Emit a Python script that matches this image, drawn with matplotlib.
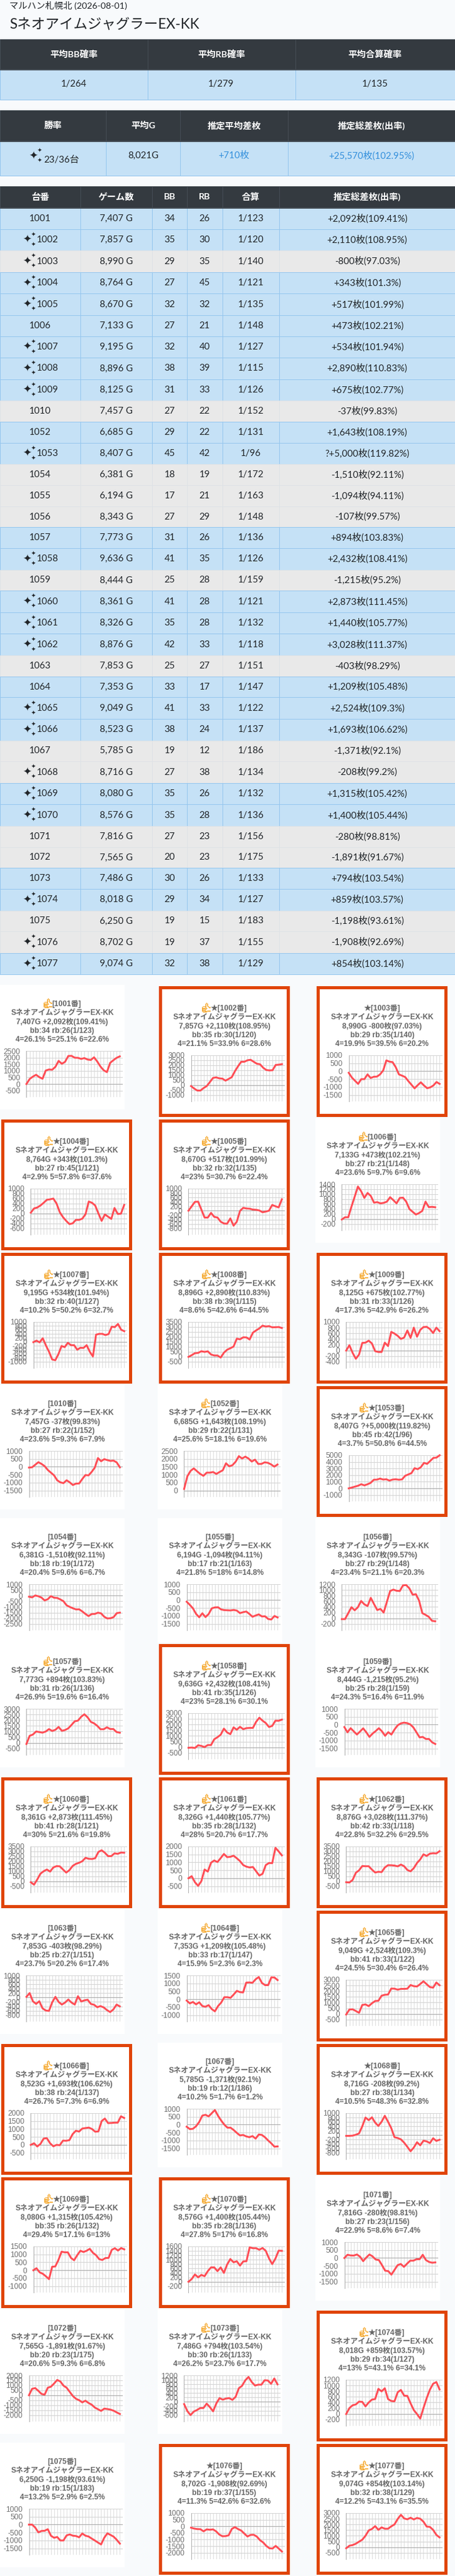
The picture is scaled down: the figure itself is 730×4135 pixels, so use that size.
import matplotlib
matplotlib.use("Agg")
import matplotlib.pyplot as plt
from matplotlib.patches import Rectangle
import numpy as np

WIDTH, HEIGHT = 730, 4135
PX = 0.72  # px -> pt at dpi 100

UI_FONT = ["Lato", "Noto Sans CJK JP", "DejaVu Sans"]
CHART_FONT = ["Liberation Sans", "Noto Sans CJK JP", "DejaVu Sans"]

MACHINE_NAME = "SネオアイムジャグラーEX-KK"
PAGE_HEADER = "マルハン札幌北 (2026-08-01)"

# --- Summary tables ----------------------------------------------------------

prob_headers = ["平均BB確率", "平均RB確率", "平均合算確率"]
prob_values = ["1/264", "1/279", "1/135"]

summary_headers = ["勝率", "平均G", "推定平均差枚", "推定総差枚(出率)"]
summary_values = ["23/36台", "8,021G", "+710枚", "+25,570枚(102.95%)"]

table_headers = ["台番", "ゲーム数", "BB", "RB", "合算", "推定総差枚(出率)"]

# --- Per machine table -------------------------------------------------------

machines = [1001, 1002, 1003, 1004, 1005, 1006, 1007, 1008, 1009, 1010, 1052, 1053,
            1054, 1055, 1056, 1057, 1058, 1059, 1060, 1061, 1062, 1063, 1064, 1065,
            1066, 1067, 1068, 1069, 1070, 1071, 1072, 1073, 1074, 1075, 1076, 1077]
games = ["7,407", "7,857", "8,990", "8,764", "8,670", "7,133", "9,195", "8,896", "8,125", "7,457", "6,685", "8,407",
         "6,381", "6,194", "8,343", "7,773", "9,636", "8,444", "8,361", "8,326", "8,876", "7,853", "7,353", "9,049",
         "8,523", "5,785", "8,716", "8,080", "8,576", "7,816", "7,565", "7,486", "8,018", "6,250", "8,702", "9,074"]
bb = [34, 35, 29, 27, 32, 27, 32, 38, 31, 27, 29, 45,
      18, 17, 27, 31, 41, 25, 41, 35, 42, 25, 33, 41,
      38, 19, 27, 35, 35, 27, 20, 30, 29, 19, 19, 32]
rb = [26, 30, 35, 45, 32, 21, 40, 39, 33, 22, 22, 42,
      19, 21, 29, 26, 35, 28, 28, 28, 33, 27, 17, 33,
      24, 12, 38, 26, 28, 23, 23, 26, 34, 15, 37, 38]
combined = ["1/123", "1/120", "1/140", "1/121", "1/135", "1/148", "1/127", "1/115", "1/126", "1/152", "1/131", "1/96",
            "1/172", "1/163", "1/148", "1/136", "1/126", "1/159", "1/121", "1/132", "1/118", "1/151", "1/147", "1/122",
            "1/137", "1/186", "1/134", "1/132", "1/136", "1/156", "1/175", "1/133", "1/127", "1/183", "1/155", "1/129"]
payout = ["+2,092枚(109.41%)", "+2,110枚(108.95%)", "-800枚(97.03%)", "+343枚(101.3%)", "+517枚(101.99%)",
          "+473枚(102.21%)", "+534枚(101.94%)", "+2,890枚(110.83%)", "+675枚(102.77%)", "-37枚(99.83%)",
          "+1,643枚(108.19%)", "?+5,000枚(119.82%)", "-1,510枚(92.11%)", "-1,094枚(94.11%)", "-107枚(99.57%)",
          "+894枚(103.83%)", "+2,432枚(108.41%)", "-1,215枚(95.2%)", "+2,873枚(111.45%)", "+1,440枚(105.77%)",
          "+3,028枚(111.37%)", "-403枚(98.29%)", "+1,209枚(105.48%)", "+2,524枚(109.3%)", "+1,693枚(106.62%)",
          "-1,371枚(92.1%)", "-208枚(99.2%)", "+1,315枚(105.42%)", "+1,400枚(105.44%)", "-280枚(98.81%)",
          "-1,891枚(91.67%)", "+794枚(103.54%)", "+859枚(103.57%)", "-1,198枚(93.61%)", "-1,908枚(92.69%)",
          "+854枚(103.14%)"]
starred = [1002, 1003, 1004, 1005, 1007, 1008, 1009, 1053, 1058, 1060, 1061, 1062,
           1065, 1066, 1068, 1069, 1070, 1074, 1076, 1077]
settings = ["4=26.1% 5=25.1% 6=22.6%", "4=21.1% 5=33.9% 6=28.6%", "4=19.9% 5=39.5% 6=20.2%",
            "4=2.9% 5=57.8% 6=37.6%", "4=23% 5=30.7% 6=22.4%", "4=23.6% 5=9.7% 6=9.6%",
            "4=10.2% 5=50.2% 6=32.7%", "4=8.6% 5=42.6% 6=44.5%", "4=17.3% 5=42.9% 6=26.2%",
            "4=23.6% 5=9.3% 6=7.9%", "4=25.6% 5=18.1% 6=19.6%", "4=3.7% 5=50.8% 6=44.5%",
            "4=20.4% 5=9.6% 6=6.7%", "4=21.8% 5=18% 6=14.8%", "4=23.4% 5=21.1% 6=20.3%",
            "4=26.9% 5=19.6% 6=16.4%", "4=23% 5=28.1% 6=30.1%", "4=24.3% 5=16.4% 6=11.9%",
            "4=30% 5=21.6% 6=19.8%", "4=28% 5=20.7% 6=17.7%", "4=22.8% 5=32.2% 6=29.5%",
            "4=23.7% 5=20.2% 6=17.4%", "4=15.9% 5=2.3% 6=2.3%", "4=24.5% 5=30.4% 6=26.4%",
            "4=26.7% 5=7.3% 6=6.9%", "4=10.2% 5=1.7% 6=1.2%", "4=10.5% 5=48.3% 6=32.8%",
            "4=29.4% 5=17.1% 6=13%", "4=27.8% 5=17% 6=16.8%", "4=22.9% 5=8.6% 6=7.4%",
            "4=20.6% 5=9.3% 6=6.8%", "4=26.2% 5=23.7% 6=17.7%", "4=13% 5=43.1% 6=34.1%",
            "4=13.2% 5=2.9% 6=2.5%", "4=11.3% 5=42.6% 6=32.6%", "4=12.2% 5=43.1% 6=35.5%"]

# y axis of each small chart: top tick, bottom tick, step
axis_top = [2500, 3000, 1000, 1000, 1000, 1400, 1000, 3500, 1000, 1000, 2500, 5000,
            1000, 1000, 1200, 3000, 3000, 1000, 3500, 2000, 3500, 1000, 1500, 3000,
            2000, 1000, 1000, 1500, 1600, 1000, 2000, 1200, 1200, 1000, 1000, 3000]
axis_bottom = [-500, -1000, -1500, -600, -800, -200, -1000, -500, -400, -1500, 0, -1000,
               -2500, -1500, -200, -500, -500, -1500, -500, -500, -500, -800, -1000, -500,
               -500, -1500, -800, -1000, -200, -1500, -2000, -600, -200, -1500, -2000, -500]
axis_step = [500, 500, 500, 200, 200, 200, 200, 500, 200, 500, 500, 1000,
             500, 500, 200, 500, 500, 500, 500, 500, 500, 200, 500, 500,
             500, 500, 200, 500, 200, 500, 500, 200, 200, 500, 500, 500]

# --- Small chart curves ------------------------------------------------------

c1001 = [0, 380, 560, 700, 520, 400, 1020, 1100, 1080, 1300, 1750, 1530, 1680, 2120, 2130,
         1990, 1980, 1900, 1960, 1850, 1820, 2020, 1700, 1320, 1040, 900, 1600, 1800, 1980, 2092]
c1002 = [-100, -350, -550, -550, -300, -100, 300, 720, 780, 680, 650, 450, 620, 800, 1400,
         1900, 2350, 2350, 2500, 2550, 2350, 2150, 2100, 1750, 1520, 1480, 1500, 2030, 2060, 2110]
c1003 = [-100, -400, -600, -800, -500, -500, -200, -430, -350, -340, -200, 50, 680, 600, 570,
         250, -200, -280, -370, -620, -850, -1080, -880, -700, -900, -1070, -1020, -900, -680, -800]
c1004 = [30, 200, 240, 320, 430, 550, 570, 600, 400, 50, -150, -300, -430, -400, -260,
         -260, -210, -30, 480, 430, 320, 0, -300, -40, -130, -220, 220, -20, -10, 343]
c1005 = [0, 200, 400, 410, 50, -310, -310, -100, -280, -310, -500, -580, -590, -350, -680,
         -500, -10, 130, 100, 90, 50, 40, 10, -70, -40, 0, 260, 200, 150, 517]
c1006 = [-20, 70, 70, 500, 900, 1310, 1120, 850, 1050, 930, 660, 680, 630, 650, 700,
         880, 760, 630, 850, 860, 700, 400, 290, 180, 240, 330, 700, 480, 490, 473]
c1007 = [-20, 60, -30, 180, -180, -500, -890, -930, -620, -210, -270, -50, -170, -170, -400,
         -300, -310, -170, -500, -740, 360, 400, 400, 340, 390, 760, 740, 900, 610, 534]
c1008 = [-20, 150, 350, 380, 550, 480, 540, 220, 120, 120, -90, 400, 700, 850, 1020,
         1820, 1750, 1950, 1940, 1730, 2420, 2650, 2850, 3130, 3040, 3080, 2960, 2970, 2990, 2890]
c1009 = [-10, 180, -90, -300, -150, 260, 270, 340, 240, -30, -60, -60, 270, 150, 650,
         590, 510, 400, 450, 700, 440, 800, 480, 720, 820, 830, 750, 610, 800, 675]
c1010 = [-50, -30, 130, 290, 180, 40, -200, -370, -540, -850, -980, -1030, -850, -980, -1150,
         -1060, -1050, -770, -520, -540, -320, -50, 550, 350, 480, 420, 370, 390, 270, -37]
c1052 = [100, 900, 1240, 1400, 1220, 1050, 930, 1130, 1130, 1170, 1050, 1170, 1280, 1720, 1530,
         1600, 1820, 2170, 2020, 2140, 2020, 1830, 1950, 1680, 1680, 1780, 1750, 1650, 1510, 1643]
c1053 = [0, 120, 260, 400, 620, 450, 620, 830, 1300, 1320, 1470, 1330, 1370, 1170, 1330,
         1370, 1300, 1350, 1900, 2100, 2300, 3050, 2900, 3200, 3850, 3700, 4150, 4600, 4650, 5000]
c1054 = [-100, -160, 10, -60, -180, -430, -320, -50, -190, -210, -340, -500, -860, -1000, -1120,
         -1220, -1210, -1400, -1620, -1810, -1630, -1620, -1510, -1570, -1870, -2020, -2000, -1900, -1550, -1510]
c1055 = [-100, -300, -520, -870, -1080, -830, -1070, -880, -520, -460, -450, -590, -630, -640, -650,
         -620, -660, -820, -760, -720, -870, -1050, -970, -900, -1030, -1020, -1190, -1220, -1000, -1094]
c1056 = [-30, -30, 180, 390, 280, 390, 610, 490, 430, 720, 500, 290, 330, 200, 580,
         960, 1010, 970, 960, 1160, 1170, 1050, 830, 850, 620, 180, 120, 50, -90, -107]
c1057 = [-100, 620, 730, 1000, 950, 900, 1000, 1210, 1050, 1150, 1400, 1060, 1130, 1280, 1580,
         1900, 1960, 2300, 2520, 2250, 1850, 1720, 1500, 1200, 1200, 1370, 1220, 1220, 950, 894]
c1058 = [-50, -30, -70, 170, 110, 10, 190, 190, 700, 880, 1100, 1640, 1300, 1150, 1750,
         1540, 1800, 1590, 1680, 1700, 1700, 2240, 2600, 2340, 2130, 1780, 1880, 2340, 2330, 2432]
c1059 = [-150, -480, -220, -420, -620, -430, -230, -480, -770, -560, -400, -220, -420, -700, -470,
         -620, -300, -40, 80, 130, 100, 20, -170, -480, -800, -770, -900, -900, -1110, -1215]
c1060 = [-100, -350, 170, 760, 1010, 1180, 970, 1390, 1520, 1500, 1180, 870, 1120, 1540, 1750,
         1860, 2020, 2360, 2260, 2240, 2320, 2950, 3120, 2870, 2530, 2530, 2810, 2760, 2890, 2873]
c1061 = [0, 130, -250, -480, -180, 550, 420, 980, 1120, 1020, 1270, 1530, 1330, 1350, 1420,
         1260, 1080, 830, 730, 680, 710, 440, 170, 280, 830, 960, 950, 1920, 1690, 1440]
c1062 = [-100, -130, 130, 850, 1100, 1530, 1510, 1510, 1170, 880, 950, 920, 1380, 1620, 1610,
         1580, 1500, 1680, 1510, 1130, 1000, 1320, 1840, 2200, 2710, 2550, 2780, 2820, 2800, 3028]
c1063 = [30, 200, -170, -290, -170, -490, -590, -610, -220, 30, -200, -320, -230, -90, -230,
         -320, 60, -180, -130, -100, -290, -330, -440, -390, -450, -570, -660, -540, -320, -403]
c1064 = [-80, -260, -170, -320, -190, -430, -470, -370, -620, -760, -430, -210, 130, 130, 90,
         300, 530, 450, 430, 1050, 1060, 1040, 1260, 1400, 1030, 890, 890, 1380, 1370, 1209]
c1065 = [-60, 380, 400, 250, 90, 780, 830, 680, 930, 1130, 1150, 1600, 1680, 1700, 2230,
         2220, 2130, 2200, 2200, 2220, 2540, 2440, 2410, 2630, 2870, 2610, 2360, 2310, 2760, 2524]
c1066 = [0, 100, -100, 60, 400, 420, 100, -90, 0, -20, 270, 260, 300, 680, 890,
         840, 1030, 1060, 1090, 1000, 830, 850, 1500, 1660, 1370, 1380, 1400, 1400, 1800, 1693]
c1067 = [-130, -280, -260, -100, 170, 570, 620, 520, 720, 920, 560, 260, 0, -190, -190,
         -340, -520, -680, -650, -740, -790, -720, -880, -620, -650, -800, -1000, -1180, -1390, -1371]
c1068 = [-30, -30, -20, 20, 80, 400, 800, 680, 810, 570, 420, 610, 880, 610, 320,
         -90, -130, -190, -340, -530, -730, -560, -320, -460, -250, -280, -360, -140, -260, -208]
c1069 = [0, 130, -130, -220, -380, -560, 220, 240, 650, 1170, 1130, 1130, 780, 630, 950,
         1230, 1150, 1230, 1350, 1100, 950, 700, 650, 770, 780, 1280, 1390, 1240, 1400, 1315]
c1070 = [0, 120, 330, 200, 310, 250, 480, 650, 650, 480, 650, 400, 780, 1030, 880,
         930, 730, 920, 930, 1560, 1520, 1520, 1450, 1530, 1400, 1060, 800, 1050, 1410, 1400]
c1071 = [0, 200, 160, 150, 220, 80, -200, 30, 220, 100, -100, -130, -450, -800, -830,
         -1050, -750, -450, -380, -560, -360, -170, -170, -80, -80, 200, -130, -250, -300, -280]
c1072 = [0, 650, 720, 440, 130, 60, 760, 860, 1180, 1540, 1390, 970, 760, 340, -80,
         -360, -500, -720, -550, -780, -950, -1240, -1410, -1580, -1350, -1390, -1450, -1560, -1730, -1891]
c1073 = [-100, -420, -600, -440, -370, -280, -280, -80, -240, -430, -70, 170, 100, 150, 170,
         90, 230, 620, 730, 980, 1130, 900, 740, 780, 780, 980, 970, 820, 1060, 794]
c1074 = [-10, 200, 300, 330, 430, 420, 260, 400, 500, 520, 880, 790, 900, 520, 450,
         440, 760, 840, 640, 630, 370, 130, -10, -170, 200, 550, 850, 1060, 1120, 859]
c1075 = [0, 0, -190, -490, -400, -390, -290, -700, -830, -780, -1000, -1000, -680, -620, -700,
         -720, -800, -560, -700, -750, -880, -1000, -1130, -1250, -830, -550, -650, -760, -960, -1198]
c1076 = [-100, -170, -210, -220, -380, -230, -260, -230, -380, -620, -750, -740, -680, -200, -60,
         -210, -320, -550, -770, -650, -640, -780, -1050, -1220, -1480, -1660, -1680, -1480, -1690, -1908]
c1077 = [-100, 120, 180, 300, 480, 650, 1000, 1470, 1600, 1850, 1520, 1740, 1620, 1620, 1830,
         2000, 2480, 2850, 2530, 2450, 2590, 2440, 2570, 2500, 2240, 1810, 1780, 1520, 1080, 854]

curves = [c1001, c1002, c1003, c1004, c1005, c1006, c1007, c1008, c1009, c1010, c1052, c1053,
          c1054, c1055, c1056, c1057, c1058, c1059, c1060, c1061, c1062, c1063, c1064, c1065,
          c1066, c1067, c1068, c1069, c1070, c1071, c1072, c1073, c1074, c1075, c1076, c1077]

# --- Colours -----------------------------------------------------------------

PAGE_BG = "#f8fafc"
HEAD_BG = "#343a40"
HEAD_LINE = "#454d55"
BLUE_BG = "#c5e1f6"
BLUE_LINE = "#95c6ee"
GRAY_BG = "#e9e9e9"
GRAY_LINE = "#dee2e6"
TEXT = "#212529"
ACCENT = "#3490dc"
FRAME = "#e0440a"
CURVE = "#ff4d55"
VALUE_SIZE = 15

fig = plt.figure(figsize=(WIDTH / 100, HEIGHT / 100), dpi=100, facecolor=PAGE_BG)
page = fig.add_axes([0, 0, 1, 1])
page.set_xlim(0, WIDTH)
page.set_ylim(HEIGHT, 0)
page.axis("off")


def put(x, y, s, size=14.4, color=TEXT, ha="center", weight="normal", family=UI_FONT):
    return page.text(x, y, s, fontsize=size * PX, color=color, ha=ha, va="center",
                     fontweight=weight, family=family, zorder=5)


def cell(x0, x1, y0, y1, bg, line, lw=1.0):
    page.add_patch(Rectangle((x0, y0), x1 - x0, y1 - y0, facecolor=bg, edgecolor=line,
                             linewidth=lw * PX, zorder=2))


def sparkle(x, y, big=17, small=9):
    # big four point star plus two small ones, top right and bottom right
    put(x, y, "✦", size=big, family=["DejaVu Sans"])
    put(x + 10, y - 8, "✦", size=small, family=["DejaVu Sans"])
    put(x + 10, y + 8, "✦", size=small, family=["DejaVu Sans"])


def header_row(edges, y0, y1, labels):
    for i, label in enumerate(labels):
        cell(edges[i], edges[i + 1], y0, y1, HEAD_BG, HEAD_LINE)
        put((edges[i] + edges[i + 1]) / 2, (y0 + y1) / 2 - 0.5, label, weight="bold", color="white")
    page.plot([0, WIDTH], [y1, y1], color=HEAD_LINE, lw=2 * PX, zorder=3)


# --- Page title --------------------------------------------------------------

put(15, 8.5, PAGE_HEADER, ha="left")
put(15, 39.5, MACHINE_NAME, size=22.6, ha="left")

# --- Table 1: average probabilities -----------------------------------------

prob_edges = [0, 236.5, 473.5, WIDTH]
header_row(prob_edges, 63, 112, prob_headers)
for i, v in enumerate(prob_values):
    cell(prob_edges[i], prob_edges[i + 1], 112, 160, BLUE_BG, BLUE_LINE)
    put((prob_edges[i] + prob_edges[i + 1]) / 2, 135.5, v, size=VALUE_SIZE)

# --- Table 2: totals ---------------------------------------------------------

sum_edges = [0, 170.4, 288.6, 462.3, WIDTH]
header_row(sum_edges, 177, 227, summary_headers)
for i, v in enumerate(summary_values):
    cell(sum_edges[i], sum_edges[i + 1], 227, 282, BLUE_BG, BLUE_LINE)
    center = (sum_edges[i] + sum_edges[i + 1]) / 2
    if i == 0:
        sparkle(53, 250.5)
        put(99, 257.5, v, size=VALUE_SIZE)
    else:
        put(center, 250, v, size=VALUE_SIZE, color=TEXT if i == 1 else ACCENT)

# --- Table 3: one row per machine -------------------------------------------

table_edges = [0, 128.5, 244.4, 300.3, 356.6, 448.3, WIDTH]
header_row(table_edges, 299, 334, table_headers)

y = 334.0
for i, m in enumerate(machines):
    has_star = m in starred
    row_h = 34.56 if has_star else 33.7
    positive = payout[i][0] != "-"
    bg, line = (BLUE_BG, BLUE_LINE) if positive else (GRAY_BG, GRAY_LINE)
    values = [str(m), f"{games[i]} G", bb[i], rb[i], combined[i], payout[i]]
    for j, v in enumerate(values):
        cell(table_edges[j], table_edges[j + 1], y, y + row_h, bg, line)
        if j == 0 and has_star:
            sparkle(43, y + row_h / 2)
            put(76.3, y + row_h / 2, str(m), size=VALUE_SIZE)
        else:
            put((table_edges[j] + table_edges[j + 1]) / 2, y + row_h / 2, str(v), size=VALUE_SIZE)
    y += row_h

# --- Small charts ------------------------------------------------------------

COL_X = [0, 253, 506]
renderer = fig.canvas.get_renderer()


def card_title(cx, cy, i):
    m = machines[i]
    mid = cx + 100
    line = ("★" if m in starred else "") + f"[{m}番]"
    t = put(mid, cy + 30.7, line, size=12, color="#666666", weight="bold", family=CHART_FONT)
    if payout[i][0] != "-":
        # thumbs up has its own colour, so it goes in a separate text
        w = t.get_window_extent(renderer).width
        thumb_w = 14.5
        left = mid - (w + thumb_w) / 2
        t.set_ha("left")
        t.set_x(left + thumb_w)
        put(left + 7, cy + 30.5, "👍", size=22, color="#f4a21f", family=["Unifont Upper", "DejaVu Sans"])
    put(mid, cy + 44.5, MACHINE_NAME, size=12, color="#666666", weight="bold", family=CHART_FONT)
    put(mid, cy + 59.3, f"{games[i]}G {payout[i]}", size=12, color="#666666", weight="bold", family=CHART_FONT)
    put(mid, cy + 73.8, f"bb:{bb[i]} rb:{rb[i]}({combined[i]})", size=12, color="#666666", weight="bold", family=CHART_FONT)
    put(mid, cy + 88.4, settings[i], size=12, color="#666666", weight="bold", family=CHART_FONT)


def small_chart(cx, cy, i):
    top, bottom, step = axis_top[i], axis_bottom[i], axis_step[i]
    ticks = np.arange(top, bottom - 1, -step)
    labels = [str(int(v)) for v in ticks]
    left = 46.5 if max(len(s) for s in labels) >= 5 else 42.4
    x0, x1, y0, y1 = cx + left, cx + 197.4, cy + 106, cy + 180

    ax = fig.add_axes([x0 / WIDTH, 1 - y1 / HEIGHT, (x1 - x0) / WIDTH, (y1 - y0) / HEIGHT])
    ax.set_facecolor("none")
    ax.set_xlim(0, 30)
    # the lowest tick sits about 10px above the end of the vertical lines
    ax.set_ylim(bottom - (top - bottom) * 10.3 / 63.7, top)
    ax.set_yticks(ticks)
    ax.set_yticklabels(labels, fontsize=12 * PX, color="#707070", family=CHART_FONT)
    ax.set_xticks(np.arange(31))
    ax.set_xticklabels([])
    ax.tick_params(length=0)
    ax.tick_params(axis="y", pad=10 * PX)
    ax.grid(True, axis="y", color="#d4d4d4", lw=1 * PX)
    ax.grid(True, axis="x", color="#dedede", lw=1 * PX)
    ax.set_axisbelow(True)
    for name, spine in ax.spines.items():
        spine.set_visible(name == "left")
        spine.set_color("#b0b0b0")
        spine.set_linewidth(1 * PX)
    ax.axhline(0, color="#aaaaaa", lw=1 * PX, zorder=1)
    ax.plot(np.arange(len(curves[i])), curves[i], color=CURVE, lw=3 * PX,
            solid_joinstyle="round", clip_on=False, zorder=3)


row_top = 1581
for start in range(0, len(machines), 3):
    row = range(start, start + 3)
    any_star = any(machines[i] in starred for i in row)
    for col, i in enumerate(row):
        if machines[i] in starred:
            page.add_patch(Rectangle((COL_X[col] + 2, row_top + 2), 210, 210, facecolor=FRAME, edgecolor="none", zorder=1))
            cx, cy = COL_X[col] + 7, row_top + 7
        else:
            cx, cy = COL_X[col], row_top
        page.add_patch(Rectangle((cx, cy), 200, 200, facecolor="white", edgecolor="none", zorder=1.5))
        card_title(cx, cy, i)
        small_chart(cx, cy, i)
    row_top += 214 if any_star else 200

fig.savefig("out.png", dpi=100, facecolor=PAGE_BG)
plt.close(fig)
